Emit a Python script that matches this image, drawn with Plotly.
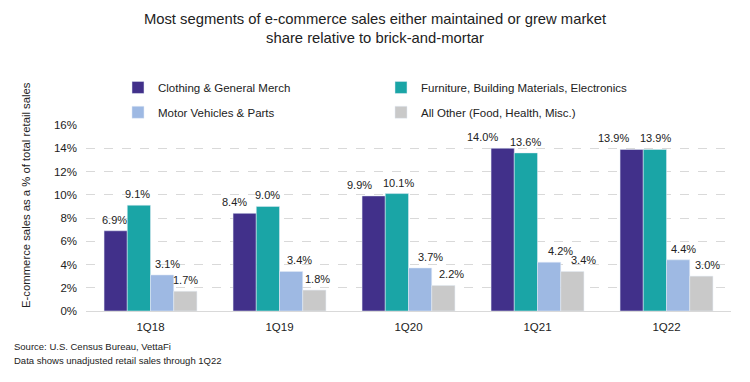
import plotly.graph_objects as go

quarters = ["1Q18", "1Q19", "1Q20", "1Q21", "1Q22"]
series_names = ["Clothing & General Merch", "Furniture, Building Materials, Electronics",
                "Motor Vehicles & Parts", "All Other (Food, Health, Misc.)"]
clothing = [6.9, 8.4, 9.9, 14.0, 13.9]
furniture = [9.1, 9.0, 10.1, 13.6, 13.9]
motor = [3.1, 3.4, 3.7, 4.2, 4.4]
other = [1.7, 1.8, 2.2, 3.4, 3.0]
colors = ["#41308A", "#1AA5A6", "#9EB9E3", "#C9C9C9"]
legend_ids = ["legend", "legend", "legend2", "legend2"]
# horizontal nudges (px) of the value labels, to keep them apart as in the original
label_nudge = [[-1, -10, -14, -20, -18],
               [-1, 0, 2, 0, 1],
               [5, 8, 10, 11, 5],
               [0, 3, 8, 11, 6]]

bar_w = 0.18
fig = go.Figure()
for k, (name, vals, c, lg) in enumerate(zip(series_names, [clothing, furniture, motor, other],
                                            colors, legend_ids)):
    off = -2 * bar_w + k * bar_w
    fig.add_trace(go.Bar(
        x=quarters, y=vals, name=name, marker_color=c, legend=lg,
        width=bar_w, offset=off, hoverinfo="name+y",
    ))
    for i, v in enumerate(vals):
        fig.add_annotation(x=i + off + bar_w / 2, y=v, xref="x", yref="y",
                           text=f"{v:.1f}%", showarrow=False, xanchor="center",
                           yanchor="middle", yshift=11, xshift=label_nudge[k][i],
                           font=dict(size=11, color="#222"))

leg_common = dict(orientation="h", x=0.0496, xanchor="left", yanchor="top",
                  yref="container", entrywidth=218, entrywidthmode="pixels",
                  font=dict(size=11.5, color="#222"), bgcolor="rgba(0,0,0,0)")
fig.update_layout(
    width=750, height=382,
    margin=dict(l=86, r=19, t=125, b=71, autoexpand=False),
    paper_bgcolor="white", plot_bgcolor="white",
    font=dict(family="Liberation Sans, Arial", size=11.5, color="#222"),
    title=dict(text="Most segments of e-commerce sales either maintained or grew market<br>share relative to brick-and-mortar",
               x=0.5, xanchor="center", y=0.938, yanchor="top", font=dict(size=14.8, color="#222")),
    barmode="overlay",
    legend=dict(y=0.809, **leg_common),
    legend2=dict(y=0.744, **leg_common),
    showlegend=True,
)
fig.update_yaxes(range=[0, 16], dtick=2, ticksuffix="%", showgrid=True,
                 gridcolor="#D9D9D9", griddash="dash", zeroline=True,
                 zerolinecolor="#C8C8C8", zerolinewidth=1, tickfont=dict(size=11.5),
                 ticks="", showline=False, ticklabelstandoff=8)
fig.update_xaxes(showline=True, linecolor="#D9D9D9", tickfont=dict(size=11.5), ticks="",
                 ticklabelstandoff=5, range=[-0.5, 4.5])

fig.add_annotation(text="E-commerce sales as a % of total retail sales", textangle=-90,
                   xref="paper", yref="paper", x=-0.093, y=0.624, xanchor="center",
                   yanchor="middle", showarrow=False, font=dict(size=11.3))
fig.add_annotation(text="Source: U.S. Census Bureau, VettaFi",
                   xref="paper", yref="paper", x=-0.1147, y=-0.1935, xanchor="left",
                   yanchor="middle", align="left", showarrow=False, font=dict(size=9.5))
fig.add_annotation(text="Data shows unadjusted retail sales through 1Q22",
                   xref="paper", yref="paper", x=-0.1147, y=-0.264, xanchor="left",
                   yanchor="middle", align="left", showarrow=False, font=dict(size=9.5))

fig.write_html("out.html", config={"displayModeBar": False},
               post_script="document.body.style.margin='0px';")
